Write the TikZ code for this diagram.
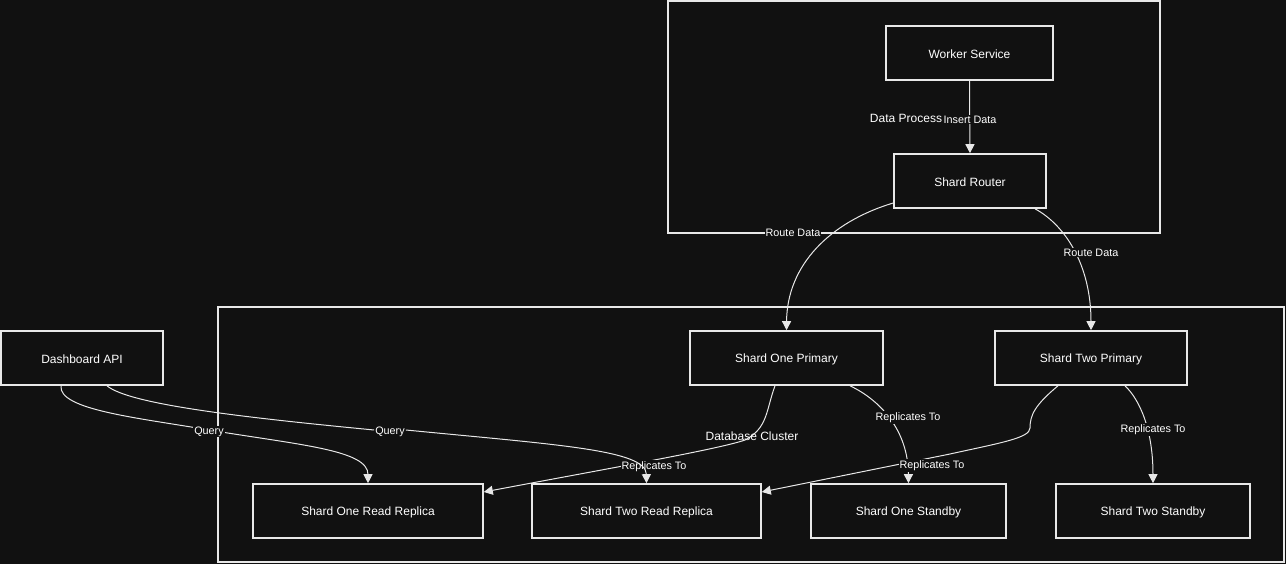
\documentclass[tikz,border=0pt]{standalone}
\usepackage{fontspec}
\setmainfont{Liberation Sans}
\usetikzlibrary{arrows.meta}
\definecolor{bg}{HTML}{111111}
\definecolor{fg}{HTML}{E8E8E8}
\tikzset{
  box/.style={draw=fg, line width=1.6pt, fill=bg, text=white, inner sep=0pt, font=\fontsize{12}{14}\selectfont},
  boxtext/.style={text=white, inner sep=0pt, font=\fontsize{12}{14}\selectfont, yshift=-1pt},
  cluster/.style={draw=fg, line width=1.6pt, inner sep=0pt},
  clabel/.style={text=white, inner sep=0pt, font=\fontsize{12}{14}\selectfont, yshift=-1pt},
  elabel/.style={text=white, fill=bg, inner sep=1pt, font=\fontsize{10.8}{12}\selectfont, yshift=-1.5pt},
  edge/.style={draw=fg, line width=1pt, -{Triangle[width=9pt,length=9pt]}},
}
\begin{document}
\begin{tikzpicture}[x=1pt,y=-1pt]
\fill[bg] (0,0) rectangle (1286,564);
\useasboundingbox (0,0) rectangle (1286,564);
% clusters
\node[cluster, minimum width=492pt, minimum height=232pt] (dp) at (914,117) {};
\node[cluster, minimum width=1066pt, minimum height=255pt] (dc) at (751,434.5) {};
% nodes
\node[box, minimum width=167pt, minimum height=54pt] (worker) at (969.5,53) {};
\node[box, minimum width=152pt, minimum height=54pt] (router) at (970,181) {};
\node[box, minimum width=162pt, minimum height=54pt] (dash) at (82,358) {};
\node[box, minimum width=193pt, minimum height=54pt] (s1p) at (786.5,358) {};
\node[box, minimum width=192pt, minimum height=54pt] (s2p) at (1091,358) {};
\node[box, minimum width=230pt, minimum height=54pt] (s1rr) at (368,511) {};
\node[box, minimum width=229pt, minimum height=54pt] (s2rr) at (646.5,511) {};
\node[box, minimum width=195pt, minimum height=54pt] (s1sb) at (908.5,511) {};
\node[box, minimum width=194pt, minimum height=54pt] (s2sb) at (1153,511) {};
\node[boxtext] (tworker) at (worker.center) {Worker Service};
\node[boxtext] (trouter) at (router.center) {Shard Router};
\node[boxtext] (tdash) at (dash.center) {Dashboard API};
\node[boxtext] (ts1p) at (s1p.center) {Shard One Primary};
\node[boxtext] (ts2p) at (s2p.center) {Shard Two Primary};
\node[boxtext] (ts1rr) at (s1rr.center) {Shard One Read Replica};
\node[boxtext] (ts2rr) at (s2rr.center) {Shard Two Read Replica};
\node[boxtext] (ts1sb) at (s1sb.center) {Shard One Standby};
\node[boxtext] (ts2sb) at (s2sb.center) {Shard Two Standby};
% cluster labels
\node[clabel] (dpl) at (906,117) {Data Process};
% edges
\draw[edge] (worker.south) -- (router.north);
\draw[edge] ([yshift=-22pt]router.west) .. controls (830,222) and (787,265) .. (s1p.north);
\draw[edge] ([xshift=65pt]router.south) .. controls (1065,225) and (1091,265) .. (s2p.north);
\draw[edge] ([xshift=63.5pt]s1p.south) .. controls (880,400) and (908,430) .. (s1sb.north);
\draw[edge] ([xshift=34pt]s2p.south) .. controls (1140,400) and (1153,430) .. (s2sb.north);
\draw[edge] ([xshift=-11.5pt]s1p.south) .. controls (766,410) and (768,428) .. (745,440) .. controls (720,449) and (600,470) .. ([yshift=19pt]s1rr.east);
\draw[edge] ([xshift=-33pt]s2p.south) .. controls (1035,405) and (1030,415) .. (1030,428) .. controls (1030,438) and (1000,443) .. (950,454) -- ([yshift=19pt]s2rr.east);
\draw[edge] ([xshift=-21pt]dash.south) .. controls (58,410) and (140,418) .. (209,430) .. controls (300,445) and (368,450) .. (s1rr.north);
% edge labels
\node[elabel] (l1) at (970,118) {Insert Data};
\node[elabel] (l2) at (793,231) {Route Data};
\node[elabel] (l3) at (1091,251) {Route Data};
\node[elabel] (l4) at (908,416) {Replicates To};
\node[elabel] (l5) at (1153,428) {Replicates To};
\node[elabel] (l6) at (654,465) {Replicates To};
\node[elabel] (l7) at (932,464) {Replicates To};
\node[elabel] (l8) at (209,430) {Query};
\node[elabel] (l9) at (390,430) {Query};
\draw[edge] ([xshift=25pt]dash.south) .. controls (130,405) and (250,418) .. ([yshift=1.5pt]l9.west) ([yshift=1.5pt]l9.east) .. controls (560,445) and (646,450) .. (s2rr.north);
\node[clabel] (dcl) at (752,435) {Database Cluster};
\end{tikzpicture}
\end{document}
